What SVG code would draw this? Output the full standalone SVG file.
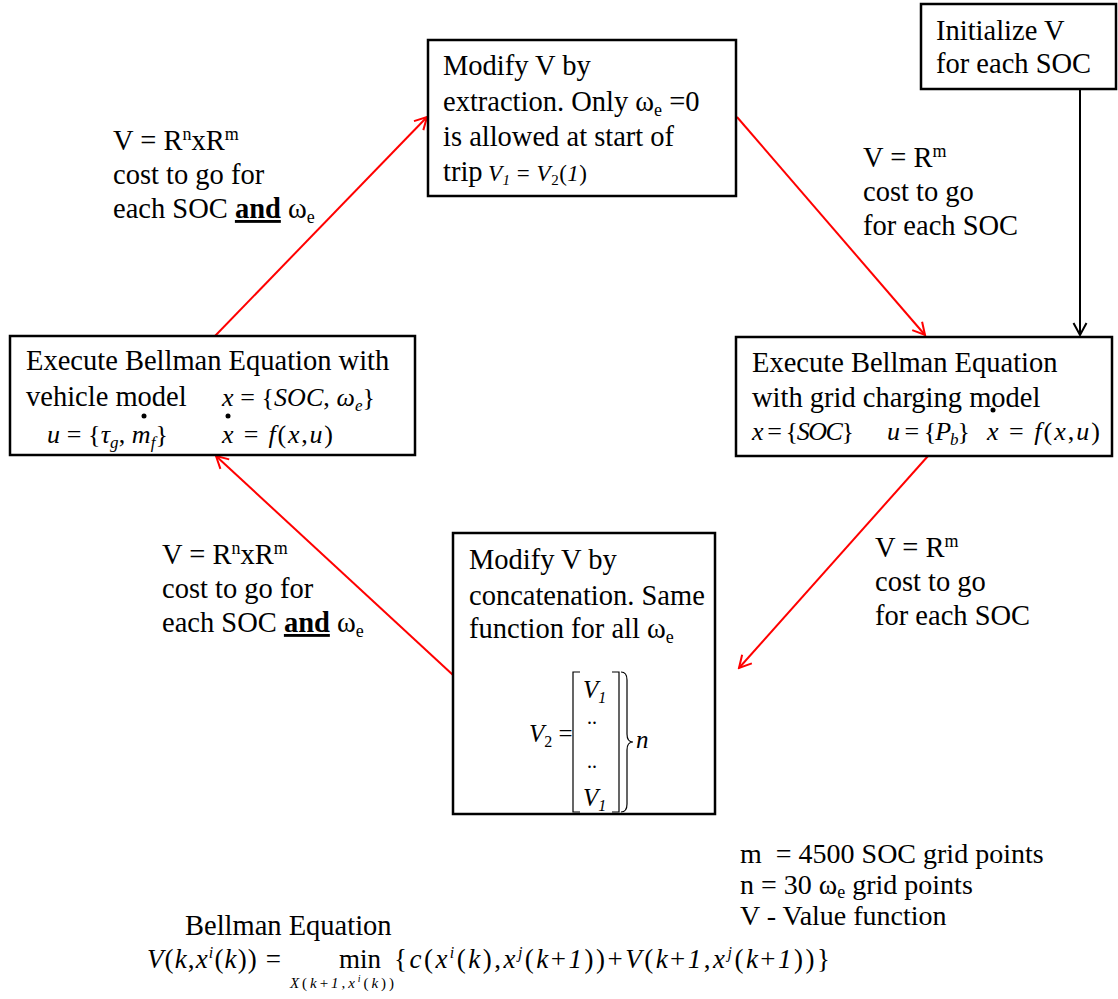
<svg xmlns="http://www.w3.org/2000/svg" width="1118" height="999" viewBox="0 0 1118 999" font-family="Liberation Serif, Times New Roman, Tinos, DejaVu Serif, serif">
<style>
text{font-family:"Liberation Serif","Times New Roman",Tinos,"DejaVu Serif",serif;fill:#000}
.t{font-size:28.5px}
.n{font-size:28px}
.m{font-size:26px}
.i{font-style:italic}
.sub{font-size:18px}
.sup{font-size:18px}
.box{fill:#fff;stroke:#000;stroke-width:2.5}
.red{stroke:#f00;stroke-width:2;fill:none}
.blk{stroke:#000;stroke-width:2;fill:none}
.thin{stroke:#000;stroke-width:1.2;fill:none}
.b{font-weight:bold;text-decoration:underline}
</style>
<defs>
<marker id="ar" viewBox="0 0 16 16" refX="14" refY="8" markerWidth="16" markerHeight="16" markerUnits="userSpaceOnUse" orient="auto"><path d="M2,1.5 L14,8 L2,14.5" fill="none" stroke="#f00" stroke-width="2"/></marker>
<marker id="ab" viewBox="0 0 16 16" refX="14" refY="8" markerWidth="16" markerHeight="16" markerUnits="userSpaceOnUse" orient="auto"><path d="M2,1.5 L14,8 L2,14.5" fill="none" stroke="#000" stroke-width="2"/></marker>
</defs>
<rect width="1118" height="999" fill="#fff"/>

<g id="connectors">
<path class="red" d="M215,336 L427,117" marker-end="url(#ar)"/>
<path class="red" d="M737,117 L925,335" marker-end="url(#ar)"/>
<path class="red" d="M928,456 L739,668" marker-end="url(#ar)"/>
<path class="red" d="M453,675 L216,456" marker-end="url(#ar)"/>
<path class="blk" d="M1080,89 L1080,335" marker-end="url(#ab)"/>
</g>

<g id="node-init">
<rect class="box" x="921" y="4" width="195" height="85"/>
<text class="t" x="936" y="40">Initialize V</text>
<text class="t" x="936" y="73">for each SOC</text>
</g>

<g id="node-extract">
<rect class="box" x="428" y="40" width="308" height="156"/>
<text class="t" x="443" y="75">Modify V by</text>
<text class="t" x="443" y="111">extraction. Only ω<tspan class="sub" dy="5">e</tspan><tspan dy="-5"> =0</tspan></text>
<text class="t" x="443" y="146">is allowed at start of</text>
<text class="t" x="443" y="181">trip</text>
<text font-size="23" x="488" y="181" textLength="99" lengthAdjust="spacing"><tspan class="i">V</tspan><tspan class="i" font-size="15" dy="4">1</tspan><tspan dy="-4"> = </tspan><tspan class="i">V</tspan><tspan font-size="15" dy="4">2</tspan><tspan dy="-4">(</tspan><tspan class="i">1</tspan>)</text>
</g>

<g id="node-bellman-vehicle">
<rect class="box" x="10" y="336" width="405" height="119"/>
<text class="t" x="26" y="370">Execute Bellman Equation with</text>
<text class="t" x="26" y="406">vehicle model</text>
<text class="m" x="222" y="406" textLength="153" lengthAdjust="spacing"><tspan class="i">x</tspan> = {<tspan class="i">SOC</tspan>, <tspan class="i">ω</tspan><tspan class="i" font-size="17" dy="5">e</tspan><tspan dy="-5">}</tspan></text>
<text class="m" x="47" y="443" textLength="121" lengthAdjust="spacing"><tspan class="i">u</tspan> = {<tspan class="i">τ</tspan><tspan class="i" font-size="17" dy="5">g</tspan><tspan dy="-5">, </tspan><tspan class="i">m</tspan><tspan class="i" font-size="17" dy="5">f</tspan><tspan dy="-5">}</tspan></text>
<text class="m" x="222" y="443" textLength="111" lengthAdjust="spacing"><tspan class="i">x</tspan> = <tspan class="i">f</tspan>(<tspan class="i">x</tspan>,<tspan class="i">u</tspan>)</text>
<circle cx="144" cy="416" r="2.5"/>
<circle cx="228" cy="416" r="2.5"/>
</g>

<g id="node-bellman-grid">
<rect class="box" x="736" y="337" width="376" height="119"/>
<text class="t" x="752" y="372">Execute Bellman Equation</text>
<text class="t" x="752" y="407">with grid charging model</text>
<text class="m" x="752" y="440" textLength="102" lengthAdjust="spacing"><tspan class="i">x</tspan> = {<tspan class="i">SOC</tspan>}</text>
<text class="m" x="887" y="440" textLength="83" lengthAdjust="spacing"><tspan class="i">u</tspan> = {<tspan class="i">P</tspan><tspan class="i" font-size="17" dy="5">b</tspan><tspan dy="-5">}</tspan></text>
<text class="m" x="987" y="440" textLength="113" lengthAdjust="spacing"><tspan class="i">x</tspan> = <tspan class="i">f</tspan>(<tspan class="i">x</tspan>,<tspan class="i">u</tspan>)</text>
<circle cx="993" cy="410" r="2.5"/>
</g>

<g id="node-concat">
<rect class="box" x="453" y="533" width="262" height="281"/>
<text class="t" x="469" y="569">Modify V by</text>
<text class="t" x="469" y="605">concatenation. Same</text>
<text class="t" x="469" y="638">function for all ω<tspan class="sub" dy="5">e</tspan></text>
<text font-size="25" x="529" y="742"><tspan class="i">V</tspan><tspan font-size="16" dy="5">2</tspan><tspan dy="-5"> =</tspan></text>
<path class="thin" d="M580,672 L573,672 L573,812 L580,812"/>
<path class="thin" d="M612,672 L619,672 L619,812 L612,812"/>
<path class="thin" d="M621,672 Q627,672 627,680 L627,734 Q627,742 633,742 Q627,742 627,750 L627,804 Q627,812 621,812"/>
<text font-size="25" class="i" x="636" y="748">n</text>
<text font-size="25" x="583" y="698"><tspan class="i">V</tspan><tspan class="i" font-size="16" dy="5">1</tspan></text>
<text font-size="20" x="587" y="724">..</text>
<text font-size="20" x="587" y="768">..</text>
<text font-size="25" x="583" y="806"><tspan class="i">V</tspan><tspan class="i" font-size="16" dy="5">1</tspan></text>
</g>

<g id="labels">
<text class="t" x="113" y="150">V = R<tspan class="sup" dy="-10">n</tspan><tspan dy="10">xR</tspan><tspan class="sup" dy="-10">m</tspan></text>
<text class="t" x="113" y="184">cost to go for</text>
<text class="t" x="113" y="218">each SOC <tspan class="b">and</tspan> ω<tspan class="sub" dy="5">e</tspan></text>

<text class="t" x="162" y="564">V = R<tspan class="sup" dy="-10">n</tspan><tspan dy="10">xR</tspan><tspan class="sup" dy="-10">m</tspan></text>
<text class="t" x="162" y="598">cost to go for</text>
<text class="t" x="162" y="632">each SOC <tspan class="b">and</tspan> ω<tspan class="sub" dy="5">e</tspan></text>

<text class="t" x="863" y="167">V = R<tspan class="sup" dy="-10">m</tspan></text>
<text class="t" x="863" y="201">cost to go</text>
<text class="t" x="863" y="235">for each SOC</text>

<text class="t" x="875" y="557">V = R<tspan class="sup" dy="-10">m</tspan></text>
<text class="t" x="875" y="591">cost to go</text>
<text class="t" x="875" y="625">for each SOC</text>

<text class="n" x="740" y="863">m <tspan dx="7">= 4500 SOC grid points</tspan></text>
<text class="n" x="740" y="894">n = 30 ω<tspan class="sub" dy="4">e</tspan><tspan dy="-4"> grid points</tspan></text>
<text class="n" x="740" y="925">V - Value function</text>

<text class="t" x="185" y="935">Bellman Equation</text>
<text font-size="27" x="147" y="968" textLength="134" lengthAdjust="spacing"><tspan class="i">V</tspan>(<tspan class="i">k</tspan>,<tspan class="i">x</tspan><tspan class="i" font-size="16" dy="-10">i</tspan><tspan dy="10">(</tspan><tspan class="i">k</tspan>)) =</text>
<text font-size="27" x="339" y="968">min</text>
<text font-size="15" x="290" y="988" textLength="104" lengthAdjust="spacing"><tspan class="i">X</tspan>(<tspan class="i">k</tspan>+<tspan class="i">1</tspan>,<tspan class="i">x</tspan><tspan class="i" font-size="10" dy="-6">i</tspan><tspan dy="6">(</tspan><tspan class="i">k</tspan>))</text>
<text font-size="27" x="394" y="968" textLength="436" lengthAdjust="spacing">{<tspan class="i">c</tspan>(<tspan class="i">x</tspan><tspan class="i" font-size="16" dy="-10">i</tspan><tspan dy="10">(</tspan><tspan class="i">k</tspan>),<tspan class="i">x</tspan><tspan class="i" font-size="16" dy="-10">j</tspan><tspan dy="10">(</tspan><tspan class="i">k</tspan>+<tspan class="i">1</tspan>))+<tspan class="i">V</tspan>(<tspan class="i">k</tspan>+<tspan class="i">1</tspan>,<tspan class="i">x</tspan><tspan class="i" font-size="16" dy="-10">j</tspan><tspan dy="10">(</tspan><tspan class="i">k</tspan>+<tspan class="i">1</tspan>))}</text>
</g>
</svg>
